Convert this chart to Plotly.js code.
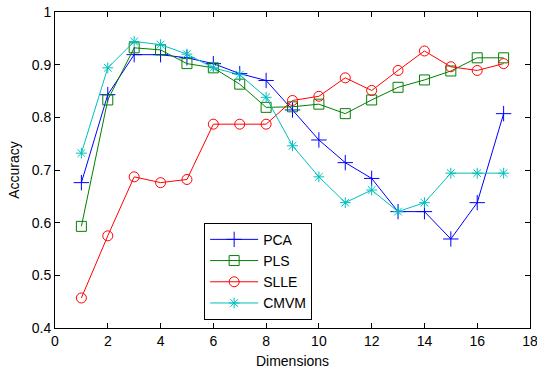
<!DOCTYPE html>
<html>
<head>
<meta charset="utf-8">
<script src="https://cdn.plot.ly/plotly-3.0.1.min.js"></script>
<style>html,body{margin:0;padding:0;background:#fff;}#chart{width:537px;height:373px;}</style>
</head>
<body>
<div id="chart"></div>
<script>
const dims = [1,2,3,4,5,6,7,8,9,10,11,12,13,14,15,16,17];
const pca  = [0.676,0.843,0.919,0.919,0.913,0.902,0.883,0.870,0.814,0.757,0.714,0.684,0.621,0.621,0.569,0.638,0.807];
const pls  = [0.593,0.833,0.932,0.928,0.902,0.894,0.863,0.819,0.820,0.825,0.807,0.833,0.857,0.871,0.888,0.913,0.913];
const slle = [0.457,0.575,0.687,0.676,0.682,0.787,0.787,0.787,0.832,0.840,0.875,0.851,0.889,0.926,0.896,0.889,0.902];
const cmvm = [0.732,0.894,0.944,0.938,0.920,0.894,0.881,0.838,0.746,0.687,0.638,0.662,0.621,0.638,0.694,0.694,0.694];
const names = ['PCA','PLS','SLLE','CMVM'];
const xTicks = [0,2,4,6,8,10,12,14,16,18];
const xTickText = ['0','2','4','6','8','10','12','14','16','18'];
const yTicks = [0.4,0.5,0.6,0.7,0.8,0.9,1];
const yTickText = ['0.4','0.5','0.6','0.7','0.8','0.9','1'];

const styles = [
  {color:'#0000ff', symbol:'cross-thin-open', size:11},
  {color:'#008000', symbol:'square-open', size:10},
  {color:'#ff0000', symbol:'circle-open', size:10},
  {color:'#00bfbf', symbol:'asterisk-open', size:9}
];
const series = [pca, pls, slle, cmvm];
const traces = series.map((s,i)=>({
  x: dims, y: s, name: names[i], type:'scatter', mode:'lines+markers',
  line:{color:styles[i].color, width:1},
  marker:{symbol:styles[i].symbol, size:styles[i].size, color:styles[i].color, line:{color:styles[i].color, width:1}}
}));

const font = {family:'Arial, "Liberation Sans", sans-serif', size:14, color:'#000'};
const axisCommon = {
  showgrid:false, zeroline:false, showline:true, linecolor:'#000', linewidth:1, mirror:'allticks',
  ticks:'inside', ticklen:5, tickcolor:'#000', tickwidth:1, tickfont:font, automargin:false,
  ticklabeloverflow:'allow'
};
const layout = {
  width:537, height:373,
  margin:{l:55, r:7, t:12, b:45},
  paper_bgcolor:'#fff', plot_bgcolor:'#fff',
  font: font,
  showlegend:true,
  legend:{x:0.314, y:0.333, xanchor:'left', yanchor:'top', bordercolor:'#000', borderwidth:1, bgcolor:'#fff', font:font, itemwidth:48},
  xaxis: Object.assign({}, axisCommon, {range:[0,18], tickmode:'array', tickvals:xTicks, ticktext:xTickText, title:{text:'Dimensions', font:font, standoff:8}}),
  yaxis: Object.assign({}, axisCommon, {range:[0.4,1], tickmode:'array', tickvals:yTicks, ticktext:yTickText, title:{text:'Accuracy', font:font, standoff:8}})
};
Plotly.newPlot('chart', traces, layout, {displayModeBar:false, staticPlot:true});
</script>
</body>
</html>
